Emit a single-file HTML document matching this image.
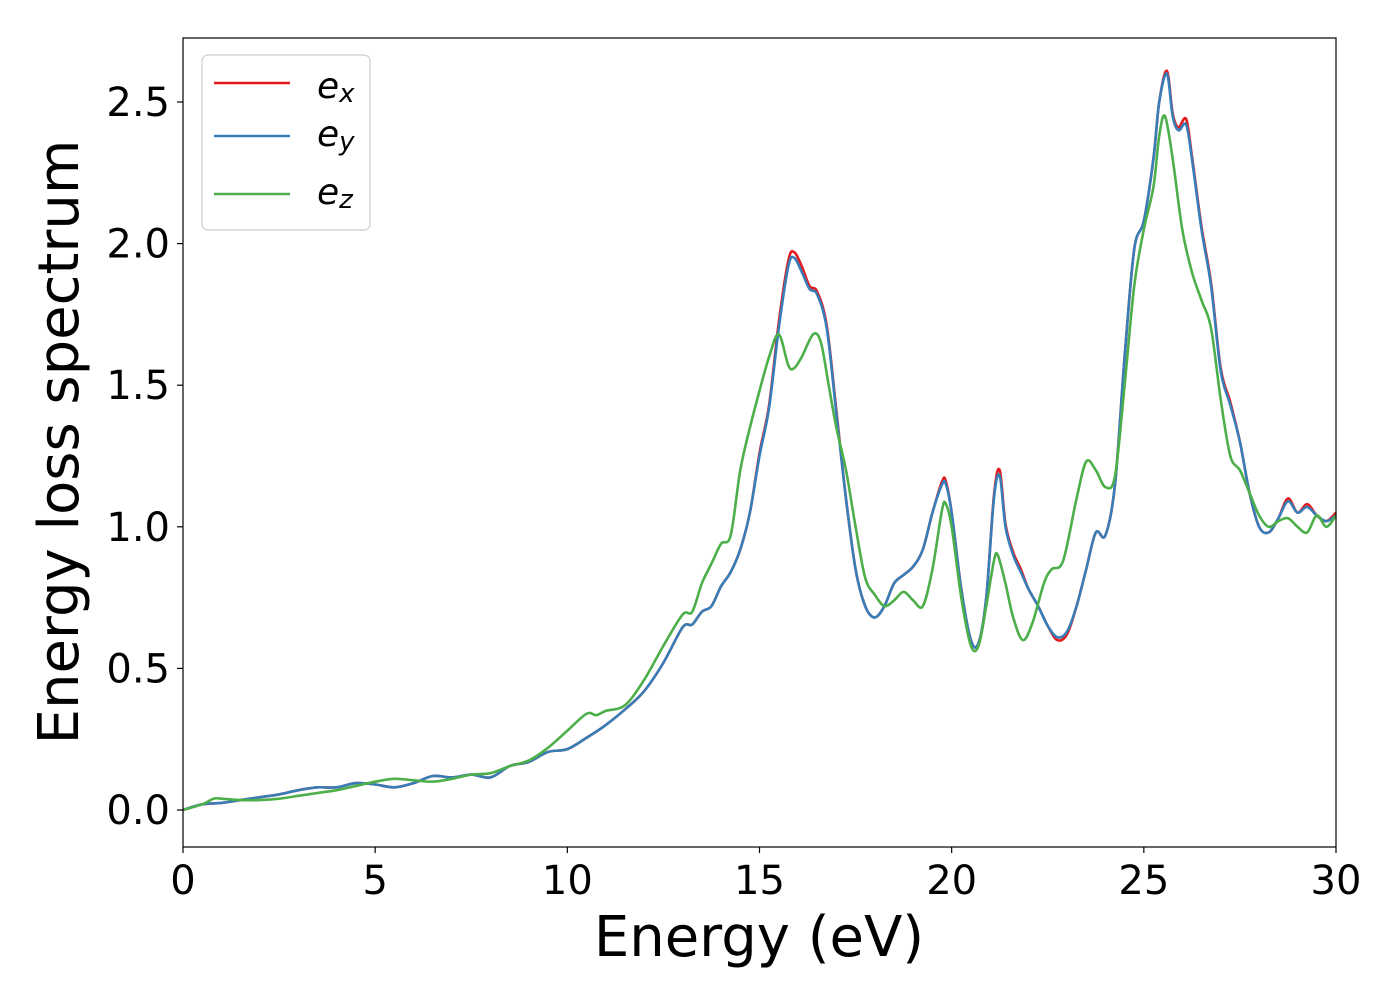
<!DOCTYPE html>
<html><head><meta charset="utf-8"><style>
html,body{margin:0;padding:0;background:#fff;}
svg text{font-family:"DejaVu Sans","Liberation Sans",sans-serif;fill:#000;}
</style></head><body>
<svg id="chart" width="1400" height="1000" xmlns="http://www.w3.org/2000/svg">
<g id="plot"></g>
<rect x="183" y="38" width="1153" height="809" fill="none" stroke="#000" stroke-width="1.2"/>
<g id="ticks"></g>
<text x="759" y="956" font-size="56" text-anchor="middle">Energy (eV)</text>
<text transform="translate(78,442) rotate(-90)" font-size="56" text-anchor="middle">Energy loss spectrum</text>
<g>
<rect x="202" y="55" width="168" height="175" rx="6" fill="#fff" fill-opacity="0.8" stroke="#ccc" stroke-width="1.2"/>
<line x1="214" y1="83" x2="290" y2="83" stroke="#e41a1c" stroke-width="2.6"/>
<text x="317" y="98" font-size="36" font-style="italic">e<tspan font-size="26" dy="4">x</tspan></text>
<line x1="214" y1="136" x2="290" y2="136" stroke="#377eb8" stroke-width="2.6"/>
<text x="317" y="146" font-size="36" font-style="italic">e<tspan font-size="26" dy="4">y</tspan></text>
<line x1="214" y1="194" x2="290" y2="194" stroke="#4daf4a" stroke-width="2.6"/>
<text x="317" y="204" font-size="36" font-style="italic">e<tspan font-size="26" dy="4">z</tspan></text>
</g>
</svg>
<script>
const xyEnergy=[0,0.5,1,1.5,2,2.5,3,3.5,4,4.5,5,5.5,6,6.5,7,7.5,8,8.5,9,9.5,10,10.5,11,11.5,12,12.5,13,13.25,13.5,13.75,14,14.25,14.5,14.75,15,15.25,15.5,15.75,15.9,16.1,16.3,16.5,16.75,17,17.25,17.5,17.75,18,18.25,18.5,18.75,19,19.25,19.5,19.75,19.85,20,20.25,20.5,20.7,20.9,21.1,21.25,21.4,21.6,21.8,22,22.25,22.5,22.75,23,23.25,23.5,23.75,24,24.25,24.5,24.75,25,25.25,25.4,25.6,25.75,25.9,26.1,26.25,26.5,26.75,27,27.25,27.5,27.75,28,28.25,28.5,28.75,29,29.25,29.5,29.75,30];
const eyValues=[0,0.02,0.025,0.035,0.045,0.055,0.07,0.08,0.08,0.095,0.09,0.08,0.095,0.12,0.115,0.125,0.115,0.155,0.17,0.205,0.215,0.255,0.3,0.355,0.42,0.52,0.645,0.655,0.7,0.72,0.79,0.84,0.92,1.05,1.25,1.42,1.7,1.92,1.95,1.9,1.84,1.82,1.7,1.4,1.1,0.85,0.72,0.68,0.72,0.8,0.83,0.86,0.92,1.05,1.15,1.15,1.05,0.78,0.6,0.59,0.75,1.1,1.18,1.0,0.9,0.84,0.78,0.72,0.65,0.61,0.63,0.72,0.85,0.98,0.97,1.15,1.6,1.98,2.08,2.3,2.5,2.6,2.45,2.4,2.42,2.3,2.05,1.85,1.55,1.43,1.3,1.12,1.0,0.98,1.03,1.09,1.05,1.07,1.04,1.02,1.04];
const exValues=[0,0.02,0.025,0.035,0.045,0.055,0.07,0.08,0.08,0.095,0.09,0.08,0.095,0.12,0.115,0.125,0.115,0.155,0.17,0.205,0.215,0.255,0.3,0.355,0.42,0.52,0.645,0.655,0.7,0.72,0.79,0.84,0.92,1.05,1.26,1.43,1.72,1.94,1.97,1.92,1.85,1.83,1.71,1.41,1.1,0.85,0.72,0.68,0.72,0.8,0.83,0.86,0.92,1.05,1.16,1.16,1.05,0.78,0.6,0.59,0.75,1.11,1.2,1.01,0.91,0.85,0.78,0.72,0.65,0.6,0.62,0.72,0.85,0.98,0.97,1.15,1.6,1.98,2.08,2.3,2.5,2.61,2.46,2.41,2.44,2.31,2.06,1.86,1.56,1.44,1.3,1.12,1.0,0.98,1.03,1.1,1.05,1.08,1.04,1.02,1.05];
const zEnergy=[0,0.5,0.8,1,1.5,2,2.5,3,3.5,4,4.5,5,5.5,6,6.5,7,7.5,8,8.5,9,9.5,10,10.5,10.75,11,11.5,12,12.5,13,13.25,13.5,13.75,14,14.25,14.5,14.75,15,15.25,15.5,15.75,15.9,16.1,16.4,16.6,16.8,17,17.25,17.5,17.75,18,18.25,18.5,18.75,19,19.25,19.5,19.75,19.85,20,20.25,20.5,20.7,20.9,21.1,21.2,21.4,21.6,21.85,22.1,22.4,22.6,22.9,23.25,23.5,23.75,24,24.25,24.5,24.75,25,25.25,25.4,25.55,25.75,26,26.25,26.5,26.75,27,27.25,27.5,27.75,28,28.25,28.5,28.75,29,29.25,29.5,29.75,30];
const ezValues=[0,0.02,0.04,0.04,0.035,0.035,0.04,0.05,0.06,0.07,0.085,0.1,0.11,0.105,0.1,0.11,0.125,0.13,0.155,0.175,0.22,0.28,0.34,0.335,0.35,0.37,0.46,0.58,0.69,0.7,0.8,0.87,0.94,0.97,1.2,1.35,1.48,1.6,1.68,1.57,1.56,1.6,1.68,1.65,1.5,1.35,1.2,1.0,0.82,0.76,0.72,0.74,0.77,0.74,0.72,0.85,1.06,1.08,1.0,0.75,0.58,0.58,0.72,0.88,0.9,0.8,0.68,0.6,0.66,0.8,0.85,0.88,1.1,1.23,1.2,1.14,1.18,1.5,1.85,2.05,2.2,2.38,2.45,2.3,2.05,1.9,1.8,1.7,1.45,1.25,1.2,1.12,1.04,1.0,1.02,1.03,1.0,0.98,1.04,1.0,1.04];
const xTickValues=[0,5,10,15,20,25,30];
const yTickValues=[0,0.5,1.0,1.5,2.0,2.5];
const yTickLabels=["0.0","0.5","1.0","1.5","2.0","2.5"];

const NS="http://www.w3.org/2000/svg";
function xScale(v){return 183+v*(1336-183)/30;}
function yScale(v){return 810-v*(810-102)/2.5;}
function pathFor(xs,ys){
  const p=xs.map((x,i)=>[xScale(x),yScale(ys[i])]);
  let d="M"+p[0][0].toFixed(2)+","+p[0][1].toFixed(2);
  for(let i=0;i<p.length-1;i++){
    const p0=p[Math.max(i-1,0)],p1=p[i],p2=p[i+1],p3=p[Math.min(i+2,p.length-1)];
    const c1x=p1[0]+(p2[0]-p0[0])/6,c1y=p1[1]+(p2[1]-p0[1])/6;
    const c2x=p2[0]-(p3[0]-p1[0])/6,c2y=p2[1]-(p3[1]-p1[1])/6;
    d+=" C"+c1x.toFixed(2)+","+c1y.toFixed(2)+" "+c2x.toFixed(2)+","+c2y.toFixed(2)+" "+p2[0].toFixed(2)+","+p2[1].toFixed(2);
  }
  return d;
}
const plot=document.getElementById("plot");
const series=[["series-ex",xyEnergy,exValues,"#e41a1c"],["series-ey",xyEnergy,eyValues,"#377eb8"],["series-ez",zEnergy,ezValues,"#4daf4a"]];
series.forEach(s=>{
  const el=document.createElementNS(NS,"path");
  
  
  el.setAttribute("d",pathFor(s[1],s[2]));
  el.setAttribute("fill","none");
  el.setAttribute("stroke",s[3]);
  el.setAttribute("stroke-width","2.6");
  plot.appendChild(el);
});
const ticks=document.getElementById("ticks");
xTickValues.forEach(v=>{
  const x=xScale(v);
  const l=document.createElementNS(NS,"line");
  
  
  l.setAttribute("x1",x);l.setAttribute("x2",x);l.setAttribute("y1",847);l.setAttribute("y2",853);
  l.setAttribute("stroke","#000");l.setAttribute("stroke-width","1.2");
  ticks.appendChild(l);
  const t=document.createElementNS(NS,"text");
  
  
  t.setAttribute("x",x);t.setAttribute("y",894);t.setAttribute("font-size","40");t.setAttribute("text-anchor","middle");
  t.textContent=String(v);
  ticks.appendChild(t);
});
yTickValues.forEach((v,i)=>{
  const y=yScale(v);
  const l=document.createElementNS(NS,"line");
  
  
  l.setAttribute("x1",177);l.setAttribute("x2",183);l.setAttribute("y1",y);l.setAttribute("y2",y);
  l.setAttribute("stroke","#000");l.setAttribute("stroke-width","1.2");
  ticks.appendChild(l);
  const t=document.createElementNS(NS,"text");
  
  
  t.setAttribute("x",170);t.setAttribute("y",y+14);t.setAttribute("font-size","40");t.setAttribute("text-anchor","end");
  t.textContent=yTickLabels[i];
  ticks.appendChild(t);
});
</script>
</body></html>
